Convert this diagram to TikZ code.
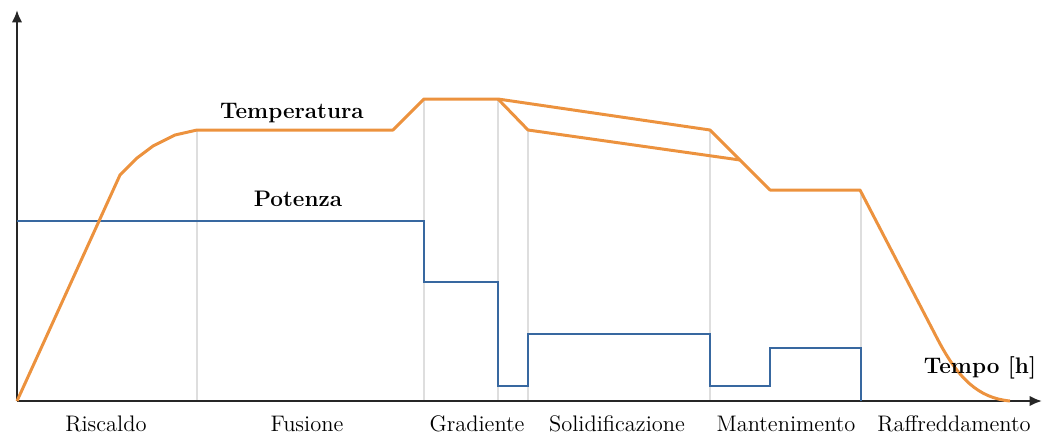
\documentclass[tikz,border=0pt]{standalone}
\usepackage{tikz}
\usetikzlibrary{arrows.meta}
\definecolor{tempcol}{RGB}{236,146,62}
\definecolor{powcol}{RGB}{56,104,160}
\definecolor{phasecol}{RGB}{222,222,222}
\tikzset{%
	axis line/.style={
		line width=1.3pt,
		draw=black!85,
		-{Latex[length=7pt,width=6pt]}
	},
	temp line/.style={
		line width=1.7pt,
		draw=tempcol,
		line join=round
	},
	pow line/.style={
		line width=1.3pt,
		draw=powcol,
		line join=miter
	},
	phase line/.style={
		line width=1pt,
		draw=phasecol
	},
	phase label/.style={
		font=\fontsize{12.8}{15}\selectfont
	},
	curve label/.style={
		font=\fontsize{12.8}{15}\selectfont\bfseries
	},
}

\begin{document}
\begin{tikzpicture}[x=0.02cm, y=-0.02cm]
	\useasboundingbox (0,0) rectangle (1043,434);
	
	% Phase separators
	\draw[phase line] (197,130) -- (197,401);
	\draw[phase line] (424,99) -- (424,401);
	\draw[phase line] (498,99) -- (498,401);
	\draw[phase line] (528,130) -- (528,401);
	\draw[phase line] (710,130) -- (710,401);
	\draw[phase line] (861,190) -- (861,401);
	
	% Axes
	\draw[axis line] (17,401) -- (17,10);
	\draw[axis line] (17,401) -- (1042,401);
	
	% Power
	\draw[pow line] (17,221) -- (424,221) -- (424,282) -- (498,282) -- (498,386)
		-- (528,386) -- (528,334) -- (710,334) -- (710,386) -- (770,386)
		-- (770,348) -- (861,348) -- (861,401);
	
	% Temperature
	\draw[temp line] (17,401) -- (120,175) -- (137,158) -- (153,146) -- (175,135)
		-- (197,130) -- (393,130) -- (424,99) -- (498,99) -- (710,130) -- (740,160)
		-- (770,190) -- (860,190) -- (938,340)
		.. controls (958,378) and (978,398) .. (1010,401);
	\draw[temp line] (498,99) -- (528,130) -- (740,160);
	
	% Labels
	\node[curve label] (temp) at (292,113) {Temperatura};
	\node[curve label] (pow) at (298,199) {Potenza};
	\node[curve label] (time) at (980,368) {Tempo [h]};
	
	\node[phase label] (riscaldo) at (106,424) {Riscaldo};
	\node[phase label] (fusione) at (307,424) {Fusione};
	\node[phase label] (gradiente) at (477,424) {Gradiente};
	\node[phase label] (solid) at (617,424) {Solidificazione};
	\node[phase label] (mant) at (786,424) {Mantenimento};
	\node[phase label] (raffr) at (954,424) {Raffreddamento};
	
\end{tikzpicture}
\end{document}
